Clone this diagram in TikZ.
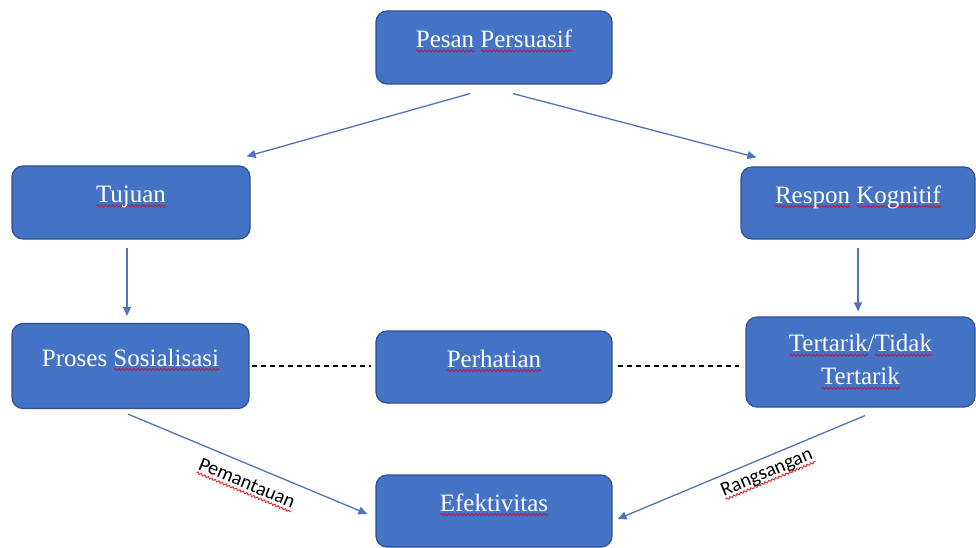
\documentclass[tikz,border=0pt]{standalone}
\usepackage{fontspec}
\setmainfont{Liberation Serif}
\newfontfamily\calib{Carlito}
\usetikzlibrary{arrows.meta,calc,decorations.pathmorphing}
\definecolor{boxfill}{HTML}{4472C4}
\definecolor{boxedge}{HTML}{2F528F}
\definecolor{arrowblue}{HTML}{4F74B8}
\definecolor{wavered}{HTML}{B0204A}
\definecolor{wavered2}{HTML}{E02828}
\tikzset{
  wave/.style={line width=0.9pt, arrows=-, shorten >=0pt, shorten <=0pt,
    rounded corners=0pt, dash pattern=on 1pt off 0pt, decorate,
    decoration={snake, amplitude=1pt, segment length=3.8pt}}
}
\newlength{\wvlen}
\newcommand{\wv}[3]{\settowidth{\wvlen}{#3}\rlap{\tikz[baseline=0pt,x=1cm,y=1cm]{\draw[wave, draw=#1] (0pt,-3.5pt) -- (\wvlen,-3.5pt);}}\textcolor{#2}{#3}}
\newcommand{\uw}[1]{\wv{wavered}{white}{#1}}
\newcommand{\uwl}[1]{\wv{wavered2}{black}{#1}}
\tikzset{
  box/.style={draw=boxedge, line width=1.2pt, fill=boxfill, rounded corners=11pt,
    text=white, font=\fontsize{25}{32}\selectfont, inner sep=0pt,
    text height=20pt, text depth=20pt},
  arr/.style={draw=arrowblue, line width=1.3pt, -{Triangle[length=9pt,width=8pt]}},
  dashline/.style={draw=black, line width=1.3pt, dash pattern=on 5.5pt off 3.5pt},
  lbl/.style={font=\calib\fontsize{20}{23}\selectfont, text=black, inner sep=2pt, sloped}
}
\begin{document}
\begin{tikzpicture}[x=1pt,y=-1pt]
\useasboundingbox (0,0) rectangle (976,548);
\node[box, minimum width=236pt, minimum height=73pt] (pesan) at (494,47.5) {\uw{Pesan} \uw{Persuasif}};
\node[box, minimum width=238pt, minimum height=73pt] (tujuan) at (131,202.5) {\uw{Tujuan}};
\node[box, minimum width=234pt, minimum height=72pt] (respon) at (858,203) {\uw{Respon} \uw{Kognitif}};
\node[box, minimum width=237pt, minimum height=85pt] (proses) at (130.5,366) {Proses \uw{Sosialisasi}};
\node[box, minimum width=236pt, minimum height=72pt] (perhatian) at (494,367) {\uw{Perhatian}};
\node[box, minimum width=229pt, minimum height=90pt, align=center, text height=, text depth=] (tertarik) at (860.5,362) {\uw{Tertarik}/\uw{Tidak}\\[1pt]\uw{Tertarik}};
\node[box, minimum width=236pt, minimum height=72pt] (efek) at (494,511) {\uw{Efektivitas}};

\coordinate (t1) at ($(tujuan.south)+(-4,8)$);
\coordinate (r1) at ($(respon.south)+(0,8)$);

\draw[arr] ($(pesan.south)+(-24,9)$) -- ($(tujuan.north east)+(-4,-9)$);
\draw[arr] ($(pesan.south)+(19,9)$) -- ($(respon.north west)+(16,-9)$);
\draw[arr, shorten >=7pt] (t1) -- (t1 |- proses.north);
\draw[arr, shorten >=5pt] (r1) -- (r1 |- tertarik.north);
\draw[dashline] ($(proses.east)+(2,0)$) -- ($(perhatian.west)+(-4,-1)$);
\draw[dashline] ($(perhatian.east)+(5,-1)$) -- ($(tertarik.west)+(-6,4)$);
\draw[arr] ($(proses.south)+(-2.5,5)$) -- node[lbl, pos=0.526, below=9pt] (lp) {\uwl{Pemantauan}} ($(efek.west)+(-8,3)$);
\draw[arr, {Triangle[length=9pt,width=8pt]}-] ($(efek.east)+(5,8)$) -- node[lbl, pos=0.58, below=5pt] (lr) {\uwl{Rangsangan}} ($(tertarik.south)+(4.5,8)$);
\end{tikzpicture}
\end{document}
